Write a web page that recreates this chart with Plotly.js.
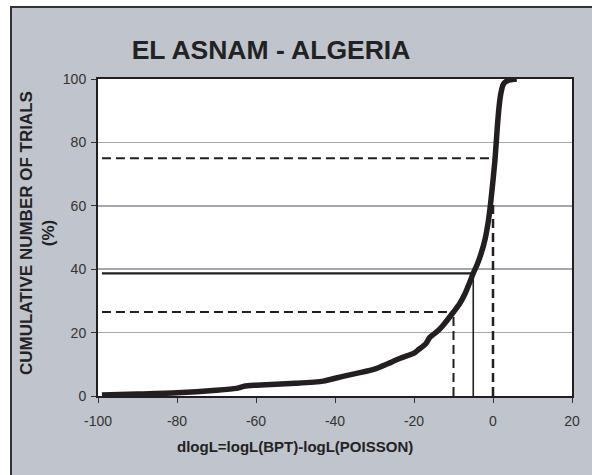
<!DOCTYPE html>
<html><head><meta charset="utf-8">
<script src="https://cdn.plot.ly/plotly-3.0.1.min.js"></script>
<style>html,body{margin:0;padding:0;background:#fff;}#chart{width:592px;height:475px;}</style>
</head><body><div id="chart"></div>
<script>
// Cumulative curve (dlogL vs cumulative % of trials)
const curveX = [-99, -90, -80, -70, -65, -63, -60, -50, -43, -38, -34, -30, -27, -23.5, -20, -19, -17, -16, -14, -12.5, -10, -8.5, -7, -6, -5, -4, -3, -2, -1.2, -0.5, 0.5, 1.1, 1.6, 2, 2.6, 3.4, 4.3, 6];
const curveY = [0.3, 0.6, 1.0, 1.8, 2.4, 3.1, 3.4, 4.0, 4.7, 6.2, 7.3, 8.5, 10, 11.9, 13.5, 14.5, 16.5, 18.5, 20.5, 22.5, 26.5, 29, 32.5, 35.5, 38.7, 41.5, 45, 49.5, 55, 62, 74.5, 85, 92, 95.5, 98.3, 99.3, 99.7, 100];

// Reference guide lines
const dash75X = [-99, 0];   const dash75Y = [75, 75];
const dash0X  = [0, 0];     const dash0Y  = [0, 61.5];
const solid39X = [-99, -5]; const solid39Y = [38.7, 38.7];
const solidV5X = [-5, -5];  const solidV5Y = [0, 38.7];
const dash26X = [-99, -10]; const dash26Y = [26.5, 26.5];
const dashV10X = [-10, -10]; const dashV10Y = [0, 26.5];

const xTicks = [-100, -80, -60, -40, -20, 0, 20];
const yTicks = [0, 20, 40, 60, 80, 100];

const ink = '#231f20';
const traces = [
  {x: dash75X, y: dash75Y, mode: 'lines', line: {color: ink, width: 2, dash: '9px,5px'}},
  {x: dash0X, y: dash0Y, mode: 'lines', line: {color: ink, width: 2.5, dash: '9px,5px'}},
  {x: solid39X, y: solid39Y, mode: 'lines', line: {color: ink, width: 2.2}},
  {x: solidV5X, y: solidV5Y, mode: 'lines', line: {color: ink, width: 1.6}},
  {x: dash26X, y: dash26Y, mode: 'lines', line: {color: ink, width: 2, dash: '9px,5px'}},
  {x: dashV10X, y: dashV10Y, mode: 'lines', line: {color: ink, width: 2, dash: '9px,5px'}},
  {x: curveX, y: curveY, mode: 'lines', line: {color: ink, width: 5.5, shape: 'spline', smoothing: 0.6}}
];

const L = 98, R = 572, T = 79, B = 396;
const px = v => (v - L) / (R - L);
const py = v => (B - v) / (B - T);

const layout = {
  width: 592, height: 475,
  margin: {l: L, r: 592 - R, t: T, b: 475 - B},
  paper_bgcolor: '#c0c4cc',
  plot_bgcolor: '#ffffff',
  showlegend: false,
  font: {family: 'Liberation Sans, Arial, sans-serif', color: '#333'},
  title: {text: 'EL ASNAM - ALGERIA', x: 271 / 592, xanchor: 'center', xref: 'container',
          y: 1 - 50 / 475, yanchor: 'middle', yref: 'container',
          font: {family: 'Liberation Sans, Arial, sans-serif', size: 26.5, color: '#222', weight: 'bold'}},
  xaxis: {range: [-100, 20], tickvals: xTicks, ticktext: xTicks.map(String), ticks: 'outside', ticklen: 5,
          tickcolor: '#333', tickwidth: 1, showgrid: false, zeroline: false, showline: true, mirror: true,
          linecolor: ink, linewidth: 2, tickfont: {size: 14, color: '#333'}, ticklabelstandoff: 6},
  yaxis: {range: [0, 100], tickvals: yTicks, ticktext: yTicks.map(String), ticks: 'outside', ticklen: 5,
          tickcolor: '#333', tickwidth: 1, showgrid: true, gridcolor: '#a3a8ae', gridwidth: 1.5,
          zeroline: false, showline: true, mirror: true, linecolor: ink, linewidth: 2,
          tickfont: {size: 14, color: '#333'}, ticklabelstandoff: 2},
  annotations: [
    {text: '<b>dlogL=logL(BPT)-logL(POISSON)</b>', xref: 'paper', yref: 'paper', x: px(295), y: py(447),
     xanchor: 'center', yanchor: 'middle', showarrow: false, font: {size: 15, color: '#222'}},
    {text: '<b>CUMULATIVE NUMBER OF TRIALS</b><br><b>(%)</b>', xref: 'paper', yref: 'paper', x: px(37), y: py(233),
     xanchor: 'center', yanchor: 'middle', textangle: -90, showarrow: false, font: {size: 17, color: '#222'}}
  ],
  shapes: [
    {type: 'rect', xref: 'paper', yref: 'paper', x0: px(0), x1: px(10), y0: py(475), y1: py(0), fillcolor: '#fff', line: {width: 0}, layer: 'below'},
    {type: 'rect', xref: 'paper', yref: 'paper', x0: px(0), x1: px(592), y0: py(6), y1: py(0), fillcolor: '#fff', line: {width: 0}, layer: 'below'},
    {type: 'line', xref: 'paper', yref: 'paper', x0: px(11), x1: px(11), y0: py(475), y1: py(6), line: {color: '#333', width: 2}},
    {type: 'line', xref: 'paper', yref: 'paper', x0: px(10), x1: px(592), y0: py(7), y1: py(7), line: {color: '#333', width: 2}}
  ]
};

Plotly.newPlot('chart', traces, layout, {displayModeBar: false, staticPlot: true});
</script></body></html>
